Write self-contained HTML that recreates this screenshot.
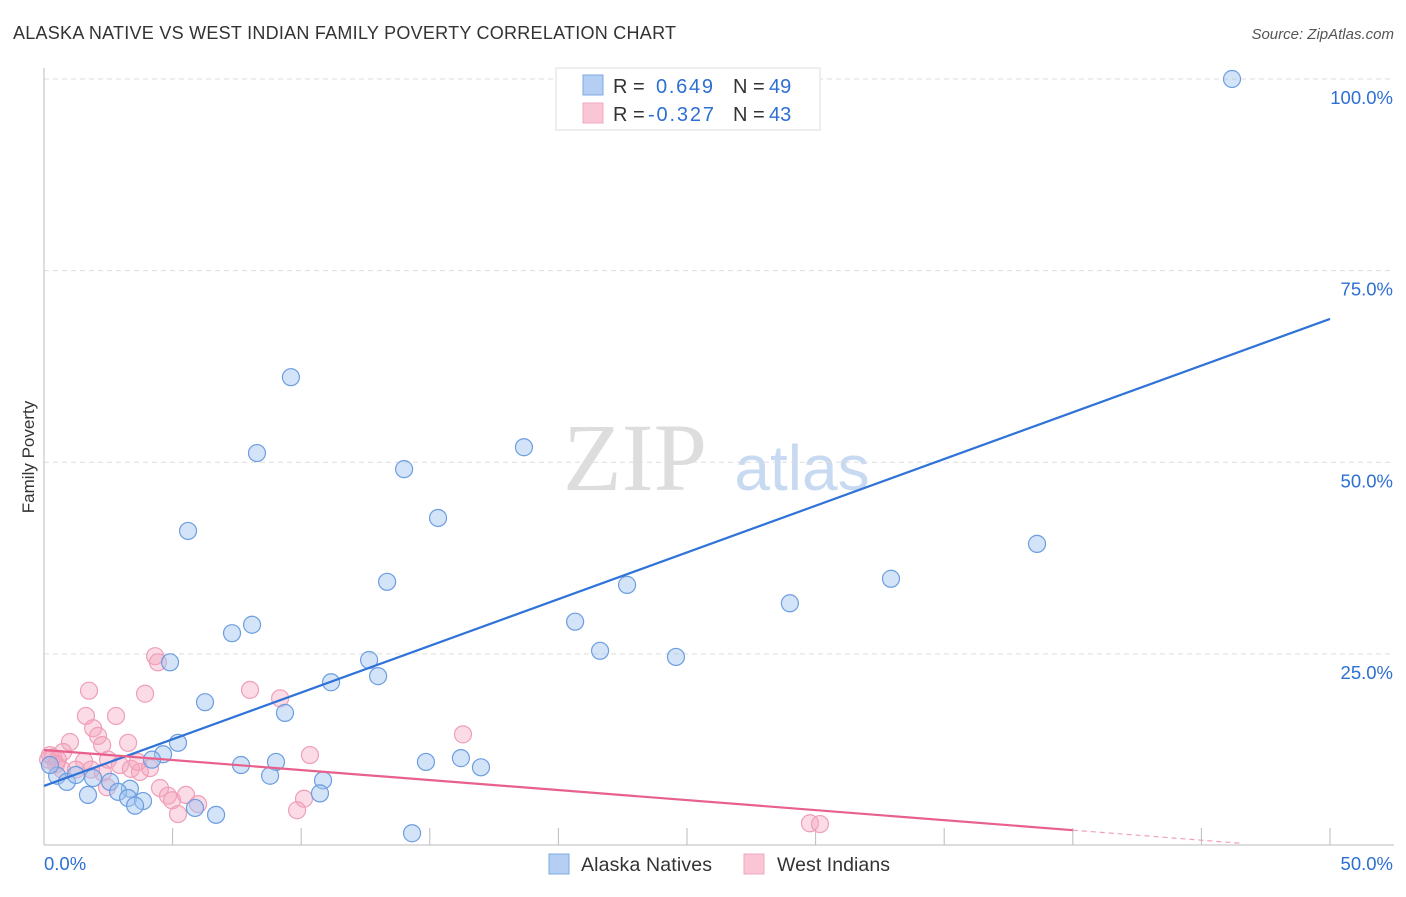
<!DOCTYPE html>
<html><head><meta charset="utf-8"><style>
body{margin:0;background:#fff;font-family:"Liberation Sans",sans-serif;}
svg text{font-family:"Liberation Sans",sans-serif;}
</style></head><body>
<svg id="chart" width="1406" height="892">
<text x="13" y="39" font-size="18" fill="#333" textLength="663">ALASKA NATIVE VS WEST INDIAN FAMILY POVERTY CORRELATION CHART</text>
<text x="1394" y="39" font-size="15" fill="#555" font-style="italic" text-anchor="end">Source: ZipAtlas.com</text>
<text transform="translate(34,457) rotate(-90)" font-size="17" fill="#333" text-anchor="middle">Family Poverty</text>
<g>
<text x="635" y="490" font-size="96" fill="#ddd" text-anchor="middle" style="font-family:'Liberation Serif',serif">ZIP</text>
<text x="802" y="490" font-size="64" fill="#c8daf2" text-anchor="middle">atlas</text>
</g>
<g id="grid"></g><g id="axes"></g><g id="pts"></g><g id="trend"></g>
<g>
<rect x="556" y="68" width="264" height="62" fill="#fff" stroke="#ddd"/>
<rect x="583" y="75" width="20" height="20" fill="#b4cff3" stroke="#7fa8e2"/>
<text x="613" y="93" font-size="20" fill="#333">R = </text><text x="656" y="93" font-size="20" fill="#2d6fd3" textLength="57">0.649</text>
<text x="733" y="93" font-size="20" fill="#333">N = </text><text x="769" y="93" font-size="20" fill="#2d6fd3">49</text>
<rect x="583" y="103" width="20" height="20" fill="#fac6d6" stroke="#f0a8bf"/>
<text x="613" y="121" font-size="20" fill="#333">R = </text><text x="648" y="121" font-size="20" fill="#2d6fd3" textLength="66">-0.327</text>
<text x="733" y="121" font-size="20" fill="#333">N = </text><text x="769" y="121" font-size="20" fill="#2d6fd3">43</text>
</g>
<g>
<rect x="549" y="854" width="20" height="20" fill="#b4cff3" stroke="#7fa8e2"/>
<text x="581" y="871" font-size="19.5" fill="#333" textLength="131">Alaska Natives</text>
<rect x="744" y="854" width="20" height="20" fill="#fac6d6" stroke="#f0a8bf"/>
<text x="777" y="871" font-size="19.5" fill="#333" textLength="113">West Indians</text>
</g>
</svg>
<script>
const yTicks=[25,50,75,100];
const yTickLabels=["25.0%","50.0%","75.0%","100.0%"];
const xTickVals=[5,10,15,20,25,30,35,40,45,50];
const blueX=[46.19,9.60,8.28,14.00,18.66,15.32,5.60,38.61,13.34,22.67,32.93,29.00,7.31,8.09,20.65,21.62,4.90,24.57,12.64,12.99,11.16,6.26,9.37,5.21,4.63,4.20,7.66,9.02,14.85,16.21,16.99,8.79,10.85,10.73,0.51,0.89,1.24,1.91,2.57,3.34,1.71,2.88,3.27,3.85,3.54,5.87,6.69,14.31,0.23];
const blueY=[100.0,61.1,51.2,49.1,51.96,42.73,41.04,39.35,34.4,34.0,34.8,31.6,27.7,28.8,29.2,25.4,23.9,24.6,24.2,22.1,21.3,18.7,17.3,13.4,11.9,11.2,10.5,10.9,10.9,11.4,10.2,9.1,8.5,6.8,9.1,8.3,9.2,8.8,8.3,7.4,6.6,7.0,6.2,5.8,5.2,4.9,4.0,1.6,10.5];
const pinkX=[4.32,4.43,1.75,3.93,8.01,9.18,1.63,2.80,1.91,2.10,2.26,3.27,1.01,0.74,0.35,0.16,0.54,1.56,2.49,2.95,3.38,3.73,4.12,10.34,16.29,4.51,4.82,4.98,5.52,5.99,5.21,10.11,9.84,2.45,2.29,0.70,1.24,1.83,29.78,30.17,0.23,0.47,3.65];
const pinkY=[24.7,23.9,20.2,19.8,20.3,19.2,16.9,16.9,15.3,14.3,13.1,13.4,13.5,12.2,11.5,11.2,11.2,11.0,11.2,10.5,10.0,9.6,10.1,11.8,14.5,7.5,6.5,5.9,6.6,5.4,4.1,6.1,4.6,7.6,9.5,9.9,9.9,9.9,2.9,2.8,11.8,10.6,10.9];
const blueTrend=[7.77,68.7];
const pinkTrend=[12.46,2.0];
const pinkTrendEnd=40.0, pinkDashEnd=46.5;

const NS="http://www.w3.org/2000/svg";
const X=v=>44+v*25.72, Y=v=>845.5-v*7.665;
function mk(tag,attrs,parent){const e=document.createElementNS(NS,tag);for(const k in attrs)e.setAttribute(k,attrs[k]);document.getElementById(parent).appendChild(e);return e;}
yTicks.forEach((t,i)=>{
 const g=mk('line',{x1:44,x2:1394,y1:Y(t),y2:Y(t),stroke:'#ddd','stroke-dasharray':'5,4'},'grid');
 
 
 const l=mk('text',{x:1393,y:Y(t)+25,'font-size':18.5,fill:'#2d6fd3','text-anchor':'end'},'grid');
 l.textContent=yTickLabels[i];
 
 
});
const ax=mk('line',{x1:44,x2:44,y1:68,y2:845,stroke:'#bbb'},'axes');


const bx=mk('line',{x1:44,x2:1394,y1:845,y2:845,stroke:'#bbb'},'axes');


xTickVals.forEach(t=>{
 const k=mk('line',{x1:X(t),x2:X(t),y1:828,y2:845,stroke:'#bbb'},'axes');
 
 
});
const x0=mk('text',{x:44,y:870,'font-size':18.5,fill:'#2d6fd3'},'axes');x0.textContent='0.0%';


const x1=mk('text',{x:1393,y:870,'font-size':18.5,fill:'#2d6fd3','text-anchor':'end'},'axes');x1.textContent='50.0%';


pinkX.forEach((v,i)=>{
 const c=mk('circle',{cx:X(v),cy:Y(pinkY[i]),r:8.5,fill:'rgba(245,165,190,0.4)',stroke:'#ef9fb8','stroke-width':1.2},'pts');
 
 
});
blueX.forEach((v,i)=>{
 const c=mk('circle',{cx:X(v),cy:Y(blueY[i]),r:8.5,fill:'rgba(160,195,240,0.45)',stroke:'#6b9de0','stroke-width':1.2},'pts');
 
 
});
const bt=mk('line',{x1:X(0),y1:Y(blueTrend[0]),x2:X(50),y2:Y(blueTrend[1]),stroke:'#2f73d8','stroke-width':2.2},'trend');


const slope=(pinkTrend[1]-pinkTrend[0])/pinkTrendEnd;
const pt=mk('line',{x1:X(0),y1:Y(pinkTrend[0]),x2:X(pinkTrendEnd),y2:Y(pinkTrend[1]),stroke:'#e8608c','stroke-width':2.2},'trend');


const pd=mk('line',{x1:X(pinkTrendEnd),y1:Y(pinkTrend[1]),x2:X(pinkDashEnd),y2:Y(pinkTrend[0]+slope*pinkDashEnd),stroke:'#f0a0b8','stroke-width':1.2,'stroke-dasharray':'5,4'},'trend');


</script>
</body></html>
